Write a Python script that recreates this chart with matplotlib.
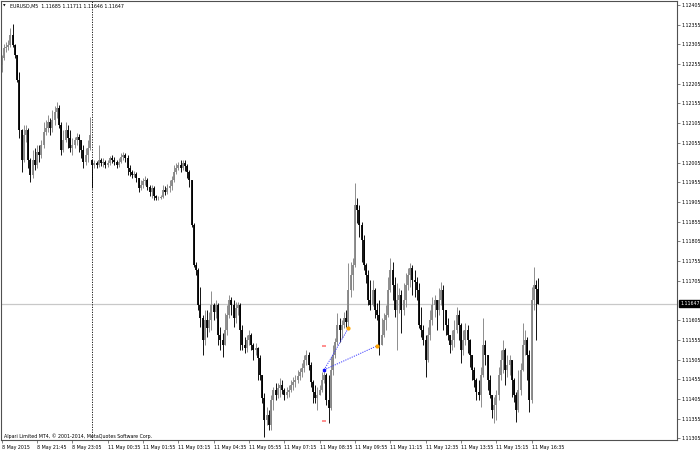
import numpy as np
import matplotlib.pyplot as plt
from matplotlib.transforms import blended_transform_factory

# EURUSD M5 bars, 8 May 2015 20:25 -> 11 May 2015 16:50
opens = [
    1.12253,1.12270,1.12296,1.12298,1.12304,1.12329,1.12304,1.12278,1.12215,1.12088,
    1.12012,1.12075,1.12088,1.12012,1.11974,1.12012,1.11999,1.12032,1.12024,1.12050,
    1.12083,1.12093,1.12108,1.12093,1.12113,1.12133,1.12144,1.12100,1.12037,1.12062,
    1.12088,1.12067,1.12042,1.12050,1.12062,1.12070,1.12062,1.12037,1.12007,1.12024,
    1.12042,1.12012,1.11999,1.12004,1.11999,1.12012,1.12004,1.12007,1.11999,1.12004,
    1.12017,1.12012,1.12007,1.11999,1.12007,1.12019,1.12024,1.12017,1.11991,1.11981,
    1.11974,1.11976,1.11966,1.11941,1.11948,1.11958,1.11961,1.11943,1.11930,1.11941,
    1.11920,1.11915,1.11915,1.11918,1.11936,1.11930,1.11941,1.11946,1.11961,1.11981,
    1.11991,1.11999,1.11991,1.12004,1.11996,1.11981,1.11961,1.11847,1.11745,1.11732,
    1.11644,1.11611,1.11555,1.11606,1.11585,1.11606,1.11644,1.11626,1.11644,1.11568,
    1.11555,1.11542,1.11580,1.11618,1.11656,1.11644,1.11611,1.11636,1.11644,1.11580,
    1.11542,1.11534,1.11555,1.11568,1.11542,1.11529,1.11534,1.11509,1.11466,1.11408,
    1.11352,1.11364,1.11339,1.11403,1.11428,1.11415,1.11433,1.11441,1.11428,1.11415,
    1.11423,1.11428,1.11441,1.11448,1.11453,1.11463,1.11474,1.11484,1.11504,1.11517,
    1.11491,1.11448,1.11423,1.11408,1.11415,1.11428,1.11453,1.11466,1.11403,1.11382,
    1.11479,1.11517,1.11550,1.11593,1.11580,1.11593,1.11611,1.11601,1.11682,1.11720,
    1.11745,1.11897,1.11885,1.11847,1.11809,1.11745,1.11720,1.11656,1.11644,1.11682,
    1.11631,1.11618,1.11542,1.11568,1.11606,1.11618,1.11682,1.11732,1.11694,1.11631,
    1.11656,1.11669,1.11631,1.11656,1.11694,1.11720,1.11737,1.11707,1.11702,1.11682,
    1.11593,1.11580,1.11555,1.11504,1.11568,1.11606,1.11644,1.11656,1.11631,1.11656,
    1.11682,1.11631,1.11593,1.11568,1.11542,1.11555,1.11580,1.11618,1.11593,1.11529,
    1.11555,1.11580,1.11555,1.11517,1.11479,1.11453,1.11423,1.11415,1.11466,1.11542,
    1.11517,1.11453,1.11415,1.11377,1.11390,1.11415,1.11466,1.11504,1.11529,1.11479,
    1.11491,1.11504,1.11453,1.11415,1.11377,1.11428,1.11479,1.11542,1.11555,1.11517,
    1.11403,1.11656,1.11694,1.11685]
highs = [
    1.12278,1.12306,1.12311,1.12316,1.12347,1.12357,1.12306,1.12278,1.12235,1.12090,
    1.12100,1.12100,1.12093,1.12017,1.12037,1.12042,1.12050,1.12050,1.12062,1.12108,
    1.12113,1.12126,1.12118,1.12139,1.12149,1.12159,1.12151,1.12108,1.12088,1.12108,
    1.12100,1.12088,1.12067,1.12070,1.12080,1.12078,1.12062,1.12050,1.12042,1.12062,
    1.12121,1.12012,1.12012,1.12009,1.12050,1.12017,1.12017,1.12012,1.12012,1.12022,
    1.12024,1.12019,1.12012,1.12017,1.12029,1.12032,1.12029,1.12024,1.11999,1.11986,
    1.11984,1.11981,1.11966,1.11961,1.11966,1.11971,1.11966,1.11948,1.11948,1.11946,
    1.11923,1.11920,1.11923,1.11948,1.11946,1.11951,1.11961,1.11971,1.11999,1.12004,
    1.12007,1.12012,1.12012,1.12012,1.12002,1.11986,1.11961,1.11852,1.11753,1.11737,
    1.11689,1.11618,1.11631,1.11631,1.11626,1.11679,1.11649,1.11656,1.11649,1.11588,
    1.11573,1.11623,1.11644,1.11669,1.11664,1.11656,1.11651,1.11651,1.11649,1.11593,
    1.11562,1.11568,1.11580,1.11573,1.11547,1.11547,1.11537,1.11517,1.11466,1.11420,
    1.11385,1.11377,1.11415,1.11436,1.11446,1.11446,1.11458,1.11453,1.11433,1.11436,
    1.11441,1.11453,1.11461,1.11466,1.11479,1.11484,1.11496,1.11517,1.11529,1.11524,
    1.11499,1.11453,1.11441,1.11436,1.11441,1.11474,1.11484,1.11471,1.11466,1.11512,
    1.11542,1.11560,1.11623,1.11611,1.11606,1.11626,1.11631,1.11750,1.11753,1.11763,
    1.11953,1.11915,1.11897,1.11854,1.11821,1.11750,1.11732,1.11707,1.11707,1.11687,
    1.11649,1.11656,1.11611,1.11623,1.11644,1.11715,1.11763,1.11753,1.11715,1.11699,
    1.11687,1.11682,1.11699,1.11725,1.11737,1.11750,1.11745,1.11732,1.11715,1.11699,
    1.11639,1.11593,1.11568,1.11588,1.11631,1.11664,1.11669,1.11656,1.11687,1.11702,
    1.11694,1.11631,1.11611,1.11568,1.11580,1.11606,1.11639,1.11631,1.11598,1.11580,
    1.11598,1.11593,1.11558,1.11517,1.11486,1.11458,1.11453,1.11486,1.11611,1.11555,
    1.11517,1.11466,1.11415,1.11410,1.11428,1.11486,1.11529,1.11555,1.11534,1.11517,
    1.11517,1.11504,1.11458,1.11423,1.11479,1.11496,1.11598,1.11580,1.11562,1.11529,
    1.11689,1.11740,1.11707,1.11711]
lows = [
    1.12235,1.12265,1.12286,1.12291,1.12298,1.12298,1.12270,1.12210,1.12067,1.11981,
    1.12007,1.12057,1.11991,1.11956,1.11966,1.11986,1.11991,1.12007,1.12017,1.12042,
    1.12075,1.12083,1.12075,1.12083,1.12100,1.12118,1.12093,1.12024,1.12032,1.12057,
    1.12042,1.12032,1.12024,1.12042,1.12050,1.12032,1.12017,1.11991,1.11999,1.12007,
    1.12037,1.11941,1.11991,1.11991,1.11994,1.11996,1.11994,1.11991,1.11994,1.11999,
    1.12004,1.11999,1.11991,1.11994,1.12004,1.12012,1.12007,1.11974,1.11971,1.11966,
    1.11969,1.11956,1.11930,1.11936,1.11941,1.11948,1.11936,1.11920,1.11915,1.11910,
    1.11910,1.11910,1.11913,1.11915,1.11923,1.11925,1.11930,1.11936,1.11956,1.11976,
    1.11986,1.11981,1.11986,1.11984,1.11966,1.11943,1.11841,1.11740,1.11720,1.11631,
    1.11588,1.11517,1.11542,1.11562,1.11575,1.11580,1.11606,1.11611,1.11542,1.11529,
    1.11512,1.11542,1.11568,1.11611,1.11618,1.11588,1.11598,1.11618,1.11529,1.11529,
    1.11522,1.11524,1.11542,1.11529,1.11504,1.11517,1.11453,1.11453,1.11395,1.11309,
    1.11339,1.11326,1.11326,1.11377,1.11403,1.11408,1.11410,1.11418,1.11403,1.11408,
    1.11410,1.11423,1.11428,1.11436,1.11446,1.11453,1.11461,1.11474,1.11491,1.11479,
    1.11436,1.11395,1.11395,1.11377,1.11415,1.11423,1.11446,1.11390,1.11344,1.11377,
    1.11466,1.11509,1.11542,1.11550,1.11560,1.11585,1.11588,1.11588,1.11664,1.11682,
    1.11740,1.11852,1.11816,1.11753,1.11732,1.11699,1.11644,1.11631,1.11640,1.11611,
    1.11606,1.11517,1.11542,1.11562,1.11580,1.11613,1.11677,1.11656,1.11613,1.11529,
    1.11623,1.11573,1.11618,1.11639,1.11682,1.11689,1.11669,1.11664,1.11656,1.11585,
    1.11562,1.11542,1.11461,1.11500,1.11555,1.11593,1.11613,1.11580,1.11618,1.11644,
    1.11580,1.11568,1.11555,1.11522,1.11529,1.11537,1.11573,1.11555,1.11496,1.11517,
    1.11542,1.11522,1.11486,1.11453,1.11436,1.11403,1.11403,1.11385,1.11460,1.11491,
    1.11428,1.11408,1.11357,1.11344,1.11352,1.11403,1.11453,1.11471,1.11441,1.11461,
    1.11466,1.11410,1.11398,1.11347,1.11372,1.11415,1.11475,1.11517,1.11453,1.11372,
    1.11395,1.11631,1.11555,1.11646]
closes = [
    1.12270,1.12296,1.12298,1.12304,1.12329,1.12304,1.12278,1.12215,1.12088,1.12012,
    1.12075,1.12088,1.12012,1.11974,1.12012,1.11999,1.12032,1.12024,1.12050,1.12083,
    1.12093,1.12108,1.12093,1.12113,1.12133,1.12144,1.12100,1.12037,1.12062,1.12088,
    1.12067,1.12042,1.12050,1.12062,1.12070,1.12062,1.12037,1.12007,1.12024,1.12042,
    1.12075,1.11999,1.12004,1.11999,1.12012,1.12004,1.12007,1.11999,1.12004,1.12017,
    1.12012,1.12007,1.11999,1.12007,1.12019,1.12024,1.12017,1.11991,1.11981,1.11974,
    1.11976,1.11966,1.11941,1.11948,1.11958,1.11961,1.11943,1.11930,1.11941,1.11920,
    1.11915,1.11915,1.11918,1.11936,1.11930,1.11941,1.11946,1.11961,1.11981,1.11991,
    1.11999,1.11991,1.12004,1.11996,1.11981,1.11961,1.11847,1.11745,1.11732,1.11644,
    1.11611,1.11555,1.11606,1.11585,1.11606,1.11644,1.11626,1.11644,1.11568,1.11555,
    1.11542,1.11580,1.11618,1.11656,1.11644,1.11611,1.11636,1.11644,1.11580,1.11542,
    1.11534,1.11555,1.11568,1.11542,1.11529,1.11534,1.11509,1.11466,1.11408,1.11352,
    1.11364,1.11339,1.11403,1.11428,1.11415,1.11433,1.11441,1.11428,1.11415,1.11423,
    1.11428,1.11441,1.11448,1.11453,1.11463,1.11474,1.11484,1.11504,1.11517,1.11491,
    1.11448,1.11423,1.11408,1.11415,1.11428,1.11453,1.11466,1.11403,1.11382,1.11479,
    1.11517,1.11550,1.11593,1.11580,1.11593,1.11611,1.11601,1.11682,1.11720,1.11745,
    1.11897,1.11885,1.11847,1.11809,1.11745,1.11720,1.11656,1.11644,1.11682,1.11631,
    1.11618,1.11542,1.11568,1.11606,1.11618,1.11682,1.11732,1.11694,1.11631,1.11656,
    1.11669,1.11631,1.11656,1.11694,1.11720,1.11737,1.11707,1.11702,1.11682,1.11593,
    1.11580,1.11555,1.11504,1.11568,1.11606,1.11644,1.11656,1.11631,1.11656,1.11682,
    1.11631,1.11593,1.11568,1.11542,1.11555,1.11580,1.11618,1.11593,1.11529,1.11555,
    1.11580,1.11555,1.11517,1.11479,1.11453,1.11423,1.11415,1.11466,1.11542,1.11517,
    1.11453,1.11415,1.11377,1.11390,1.11415,1.11466,1.11504,1.11529,1.11479,1.11491,
    1.11504,1.11453,1.11415,1.11377,1.11428,1.11479,1.11542,1.11555,1.11517,1.11403,
    1.11656,1.11694,1.11685,1.11647]

time_labels = ["8 May 2015", "8 May 21:45", "8 May 23:05", "11 May 00:35",
               "11 May 01:55", "11 May 03:15", "11 May 04:35", "11 May 05:55",
               "11 May 07:15", "11 May 08:35", "11 May 09:55", "11 May 11:15",
               "11 May 12:35", "11 May 13:55", "11 May 15:15", "11 May 16:35"]
label_step = 16
monday_bar = 41
bid = 1.11647

# trade objects drawn on the chart
entry_bar, entry_price = 146, 1.11479
stop_levels = [1.11540, 1.11349]
exit_bars = [157, 170]
exit_prices = [1.11585, 1.11540]

fs = 3.4
o = np.array(opens); h = np.array(highs); l = np.array(lows); c = np.array(closes)
x = np.arange(len(c))

fig = plt.figure(figsize=(7, 4.51), dpi=100)
ax = fig.add_axes([1/700, 11/451, 676/700, 439/451])

up = c >= o
for mask, col in ((up, '#858585'), (~up, 'black')):
    ax.vlines(x[mask], l[mask], h[mask], color=col, lw=0.65)
    ax.vlines(x[mask], np.minimum(o, c)[mask], np.maximum(o, c)[mask], color=col, lw=1.3)

ax.axhline(bid, color='#c8c8c8', lw=0.9, zorder=0)
ax.axvline(monday_bar, color='black', lw=0.6, ls=(0, (1.5, 1.5)))

# SL/TP dashes, entry and exits
ax.hlines(stop_levels, entry_bar - 1.0, entry_bar + 1.0, color='#ff7070', lw=1.1)
for xb, yp in zip(exit_bars, exit_prices):
    ax.plot([entry_bar, xb], [entry_price, yp], color='#3a3aff', ls=(0, (1.2, 1.2)), lw=0.7)
ax.plot(exit_bars, exit_prices, 'o', color='#ffa500', ms=2)
ax.plot(entry_bar, entry_price, 's', color='#1010ff', ms=1.8)

ax.set_xlim(-0.3, 305.8)
ax.set_ylim(1.11301, 1.12415)

for s in ax.spines.values():
    s.set_color('#505050')
    s.set_linewidth(0.8)

ticks = np.round(np.arange(1.12405, 1.11300, -0.0005), 5)
ticks = [t for t in ticks if abs(t - bid) > 0.0002]
ax.yaxis.tick_right()
ax.set_yticks(ticks)
ax.set_yticklabels([f'{t:.5f}' for t in ticks])
ax.tick_params(axis='y', direction='out', length=2, width=0.5, pad=1.2,
               labelsize=fs, color='#505050')

ax.set_xticks(np.arange(len(time_labels)) * label_step)
ax.set_xticklabels(time_labels)
for t in ax.get_xticklabels():
    t.set_horizontalalignment('left')
ax.tick_params(axis='x', direction='out', length=2.5, width=0.5, pad=1,
               labelsize=fs, color='#505050')

tr = blended_transform_factory(ax.transAxes, ax.transData)
ax.text(1.0 + 3/676, bid, f'{bid:.5f}', transform=tr, ha='left', va='center',
        color='white', fontsize=fs,
        bbox=dict(boxstyle='square,pad=0.25', facecolor='black', edgecolor='black'))

fig.text(3/700, 1 - 6/451, "\u25bc", fontsize=2.4, va='center')
fig.text(10/700, 1 - 6/451, "EURUSD,M5  1.11685 1.11711 1.11646 1.11647",
         fontsize=fs, va='center')
ax.text(0.005, 0.009, "Alpari Limited MT4, \u00a9 2001-2014, MetaQuotes Software Corp.",
        transform=ax.transAxes, fontsize=fs, va='center')

fig.savefig('out.png', dpi=100)
